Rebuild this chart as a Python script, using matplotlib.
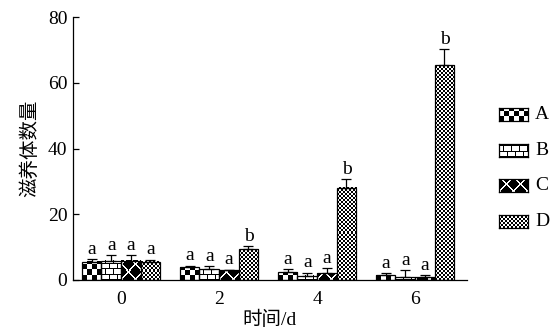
import matplotlib
matplotlib.use("Agg")
import matplotlib.pyplot as plt
import numpy as np

plt.rcParams['font.family'] = ['Liberation Serif', 'Noto Sans CJK SC']
plt.rcParams['font.size'] = 14

days = ['0', '2', '4', '6']
groups = ['A', 'B', 'C', 'D']
vals = {
    'A': [5.6, 3.9, 2.4, 1.4],
    'B': [5.9, 3.3, 1.3, 0.8],
    'C': [5.9, 2.9, 2.0, 0.8],
    'D': [5.5, 9.4, 28.0, 65.3],
}
errs = {
    'A': [0.8, 0.5, 0.9, 0.7],
    'B': [1.6, 0.9, 0.9, 2.2],
    'C': [1.6, 0.2, 1.5, 0.7],
    'D': [0.7, 0.8, 2.7, 4.9],
}
letters = {
    'A': ['a', 'a', 'a', 'a'],
    'B': ['a', 'a', 'a', 'a'],
    'C': ['a', 'a', 'a', 'a'],
    'D': ['a', 'b', 'b', 'b'],
}

W, H = 555, 328
DPI = 100


def texture(kind, wp, hp):
    wp = max(int(round(wp)), 1)
    hp = max(int(round(hp)), 1)
    i, j = np.mgrid[0:hp, 0:wp]
    if kind == 'A':
        img = ((i // 5 + j // 5) % 2).astype(float)
    elif kind == 'D':
        img = ((i // 2 + j // 2) % 2).astype(float)
    elif kind == 'B':
        row = i // 5
        hline = (i % 5) == 0
        vline = ((j + (row % 2) * 4) % 8) == 0
        img = np.where(hline | vline, 0.0, 1.0)
    else:
        p = 14
        d1 = (i + j) % p
        d2 = (i - j) % p
        img = np.where((d1 < 2) | (d2 < 2), 1.0, 0.0)
    return img


fig = plt.figure(figsize=(W / DPI, H / DPI), dpi=DPI)
left, right, top, bottom = 73, 467, 17, 280
ax = fig.add_axes([left / W, 1 - bottom / H, (right - left) / W, (bottom - top) / H])

xlim = (-0.49, 3.53)
ylim = (0, 80)
px_x = (right - left) / (xlim[1] - xlim[0])
px_y = (bottom - top) / (ylim[1] - ylim[0])

width = 0.2
x = np.arange(len(days))
for k, g in enumerate(groups):
    xs = x + (k - 1.5) * width
    for xi, v in zip(xs, vals[g]):
        img = texture(g, width * px_x, v * px_y)
        ax.imshow(img, cmap='gray', vmin=0, vmax=1, origin='lower',
                  extent=[xi - width / 2, xi + width / 2, 0, v],
                  aspect='auto', interpolation='nearest', zorder=2)
    ax.bar(xs, vals[g], width, fill=False, edgecolor='black', linewidth=0.9, zorder=3)
    ax.errorbar(xs, vals[g], yerr=[np.zeros(len(days)), errs[g]], fmt='none',
                ecolor='black', elinewidth=0.9, capsize=3.3, capthick=0.9, zorder=3)
    for xi, v, e, t in zip(xs, vals[g], errs[g], letters[g]):
        ax.annotate(t, (xi, v + e), xytext=(0, 1), textcoords='offset points',
                    ha='center', va='bottom', fontsize=14)

ax.set_xlim(*xlim)
ax.set_ylim(*ylim)
ax.set_xticks(x)
ax.set_xticklabels(days)
ax.set_yticks([0, 20, 40, 60, 80])
ax.tick_params(axis='x', length=0, pad=8)
ax.tick_params(axis='y', direction='in', length=4, width=0.9, pad=4)
for s in ['top', 'right']:
    ax.spines[s].set_visible(False)
for s in ['left', 'bottom']:
    ax.spines[s].set_linewidth(0.9)
ax.set_xlabel('时间/d', fontsize=14, labelpad=2)
ax.set_ylabel('滋养体数量', fontsize=14, labelpad=6)

# legend swatches
for k, g in enumerate(groups):
    cy = 114.5 + k * 35.7
    bw, bh = 29, 13
    lax = fig.add_axes([499 / W, 1 - (cy + bh / 2) / H, bw / W, bh / H])
    lax.imshow(texture(g, bw, bh), cmap='gray', vmin=0, vmax=1, origin='lower',
               extent=[0, 1, 0, 1], aspect='auto', interpolation='nearest')
    lax.set_xticks([])
    lax.set_yticks([])
    for sp in lax.spines.values():
        sp.set_linewidth(0.9)
    fig.text(535 / W, 1 - cy / H, g, ha='left', va='center', fontsize=14)

fig.savefig('out.png', dpi=DPI)
